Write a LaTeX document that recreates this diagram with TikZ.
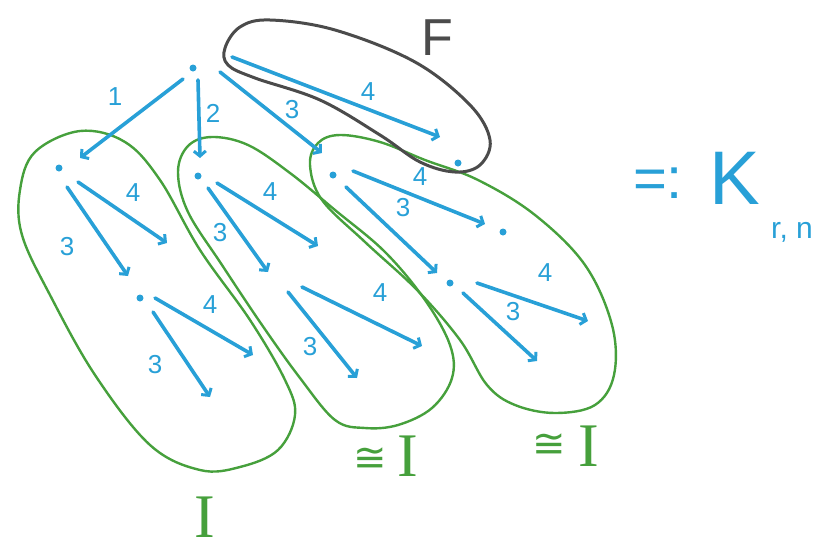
\documentclass[tikz,border=0pt]{standalone}
\usepackage{fontspec}
\setmainfont{Liberation Sans}
\newfontfamily\serI{Liberation Serif}
\newfontfamily\dejavu{DejaVu Sans}
\usetikzlibrary{arrows.meta}
\definecolor{myblue}{RGB}{40,160,215}
\definecolor{mygreen}{RGB}{70,160,60}
\definecolor{mydark}{RGB}{75,75,75}
\tikzset{
  vdot/.style={circle, fill=myblue, inner sep=0pt, minimum size=7pt},
  edge/.style={draw=myblue, line width=3.6pt, line cap=round, -{Straight Barb[length=5pt,width=12pt,line width=3pt]}},
  lbl/.style={text=myblue, font=\fontsize{26}{28}\selectfont, inner sep=0pt},
  gblob/.style={draw=mygreen, line width=2.4pt},
  fblob/.style={draw=mydark, line width=3pt},
  biglbl/.style={text=mygreen, font=\serI\fontsize{62}{62}\selectfont, inner sep=0pt},
  conglbl/.style={text=mygreen, font=\dejavu\fontsize{40}{40}\selectfont, inner sep=0pt},
}
\begin{document}
\begin{tikzpicture}[x=1pt,y=-1pt]
\useasboundingbox (0,0) rectangle (832,557);
% blobs
\draw[gblob] plot[smooth cycle, tension=0.6] coordinates {(20,190) (35,152) (80,131) (125,142) (160,180) (200,250) (250,320) (285,380) (295,415) (278,450) (240,467) (200,470) (150,445) (95,375) (50,295) (22,235)};
\draw[gblob] plot[smooth cycle, tension=0.6] coordinates {(178,172) (188,146) (212,137) (248,145) (290,173) (335,210) (385,252) (425,300) (450,345) (452,378) (432,408) (398,425) (365,428) (335,420) (300,378) (262,325) (222,265) (188,212)};
\draw[gblob] plot[smooth cycle, tension=0.6] coordinates {(310,165) (318,143) (340,135) (380,142) (425,160) (478,180) (535,215) (585,265) (612,325) (614,375) (595,405) (555,413) (515,405) (487,385) (460,340) (417,290) (365,242) (322,200)};
\draw[fblob] plot[smooth cycle, tension=0.6] coordinates {(225,48) (240,27) (270,20) (335,30) (415,62) (470,105) (490,140) (480,165) (455,172) (420,162) (380,135) (320,100) (255,78) (228,65)};
% dots
\node[vdot] (r) at (193,68) {};
\node[vdot] (n1) at (59,168) {};
\node[vdot] (n2) at (198,176) {};
\node[vdot] (n3) at (333,175) {};
\node[vdot] (n4) at (458,163) {};
\node[vdot] (n13) at (140,298) {};
\node[vdot] (n34) at (503,232) {};
\node[vdot] (n33) at (450,283) {};
% edge end points
\coordinate (r1s) at (183,79);  \coordinate (r1e) at (80,158);
\coordinate (r2s) at (198,80);  \coordinate (r2e) at (200,158);
\coordinate (r3s) at (220,72);  \coordinate (r3e) at (322,153);
\coordinate (r4s) at (232,57);  \coordinate (r4e) at (440,137);
\coordinate (a4s) at (78,182);  \coordinate (a4e) at (167,243);
\coordinate (a3s) at (67,187);  \coordinate (a3e) at (128,276);
\coordinate (b4s) at (155,298); \coordinate (b4e) at (253,355);
\coordinate (b3s) at (153,312); \coordinate (b3e) at (210,397);
\coordinate (c4s) at (217,183); \coordinate (c4e) at (318,246);
\coordinate (c3s) at (208,188); \coordinate (c3e) at (268,272);
\coordinate (d4s) at (302,287); \coordinate (d4e) at (422,346);
\coordinate (d3s) at (288,292); \coordinate (d3e) at (357,378);
\coordinate (e4s) at (353,171); \coordinate (e4e) at (485,224);
\coordinate (e3s) at (346,187); \coordinate (e3e) at (437,273);
\coordinate (f4s) at (477,283); \coordinate (f4e) at (588,321);
\coordinate (f3s) at (463,293); \coordinate (f3e) at (537,361);
% edges
\foreach \e in {r1,r2,r3,r4,a4,a3,b4,b3,c4,c3,d4,d3,e4,e3,f4,f3}
  \draw[edge] (\e s) -- (\e e);
% edge labels
\node[lbl] (l1) at (115,97) {1};
\node[lbl] (l2) at (213,113) {2};
\node[lbl] (l3) at (292,110) {3};
\node[lbl] (l4) at (368,92) {4};
\node[lbl] (la4) at (133,193) {4};
\node[lbl] (la3) at (67,247) {3};
\node[lbl] (lb4) at (210,305) {4};
\node[lbl] (lb3) at (155,365) {3};
\node[lbl] (lc4) at (270,192) {4};
\node[lbl] (lc3) at (220,233) {3};
\node[lbl] (ld4) at (380,293) {4};
\node[lbl] (ld3) at (310,347) {3};
\node[lbl] (le4) at (420,177) {4};
\node[lbl] (le3) at (403,208) {3};
\node[lbl] (lf4) at (545,273) {4};
\node[lbl] (lf3) at (513,312) {3};
% big labels
\node[text=mydark, font=\fontsize{52}{52}\selectfont, inner sep=0pt] (F) at (437,38) {F};
\node[biglbl] (I1) at (205,517) {I};
\node[conglbl] (c2) at (370,460) {≅};
\node[biglbl] (I2) at (408,456) {I};
\node[conglbl] (c3) at (549,446) {≅};
\node[biglbl] (I3) at (589,446) {I};
\node[text=myblue, font=\fontsize{58}{58}\selectfont, inner sep=0pt] (eq) at (658,183) {=:};
\node[text=myblue, font=\fontsize{76}{76}\selectfont, inner sep=0pt] (K) at (735,178) {K};
\node[text=myblue, font=\fontsize{30}{30}\selectfont, inner sep=0pt] (sub) at (792,232) {r, n};
\end{tikzpicture}
\end{document}
